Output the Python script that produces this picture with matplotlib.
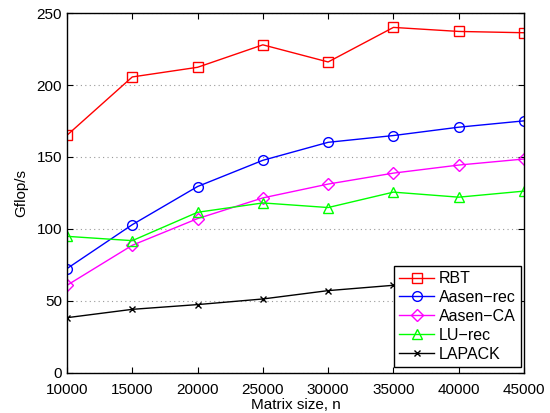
import numpy as np
import matplotlib
matplotlib.use("Agg")
import matplotlib.pyplot as plt

# ---------------------------------------------------------------------------
# Data
# ---------------------------------------------------------------------------

sizes     = [10000, 15000, 20000, 25000, 30000, 35000, 40000, 45000]
rbt       = [165.1, 205.6, 212.3, 227.9, 216.0, 240.0, 237.2, 236.3]
aasen_rec = [72.5, 103.0, 129.5, 147.7, 160.2, 164.9, 170.7, 175.1]
aasen_ca  = [60.9, 88.7, 107.2, 121.6, 131.2, 138.8, 144.4, 148.6]
lu_rec    = [94.9, 91.9, 111.6, 118.1, 114.9, 125.6, 122.1, 126.3]
lapack    = [38.4, 44.2, 47.5, 51.4, 57.2, 60.9, np.nan, np.nan]  # last two hidden by legend

y_ticks = [0, 50, 100, 150, 200, 250]

# ---------------------------------------------------------------------------
# Plot
# ---------------------------------------------------------------------------

plt.rcParams["font.family"] = ["Liberation Sans", "DejaVu Sans"]
plt.rcParams["font.size"] = 11

fig = plt.figure(figsize=(5.5, 4.13), dpi=100)
ax = fig.add_axes([0.1218, 0.0969, 0.8309, 0.8716])

style = dict(linewidth=1.0, markersize=7, markerfacecolor="none", markeredgewidth=1.0)
ax.plot(sizes, rbt,       color="#ff0000", marker="s", label="RBT", **style)
ax.plot(sizes, aasen_rec, color="#0000ff", marker="o", label="Aasen\u2212rec", **style)
ax.plot(sizes, aasen_ca,  color="#ff00ff", marker="D", label="Aasen\u2212CA",
        **{**style, "markersize": 6})
ax.plot(sizes, lu_rec,    color="#00ff00", marker="^", label="LU\u2212rec", **style)
ax.plot(sizes, lapack,    color="black",   marker="x", label="LAPACK",
        **{**style, "markersize": 5})

ax.set_xlim(10000, 45000)
ax.set_ylim(0, 250)
ax.set_xticks(sizes)
ax.set_yticks(y_ticks)
ax.tick_params(direction="in", top=True, right=True, length=4, labelsize=11)
ax.tick_params(axis="x", pad=7)
ax.yaxis.grid(True, linestyle=(0, (1, 3)), color="#999999", linewidth=0.8)
for s in ax.spines.values():
    s.set_linewidth(1.0)

ax.set_xlabel("Matrix size, n", fontsize=11, labelpad=1)
ax.set_ylabel("Gflop/s", fontsize=11, labelpad=6)

leg = ax.legend(loc="lower right", bbox_to_anchor=(0.993, 0.017), fontsize=11.5,
                frameon=True, fancybox=False, edgecolor="black", framealpha=1,
                handlelength=2.2, handletextpad=0.3, borderpad=0.3,
                labelspacing=0.25, borderaxespad=0)
leg.get_frame().set_linewidth(1.0)

fig.savefig("out.png", dpi=100)
